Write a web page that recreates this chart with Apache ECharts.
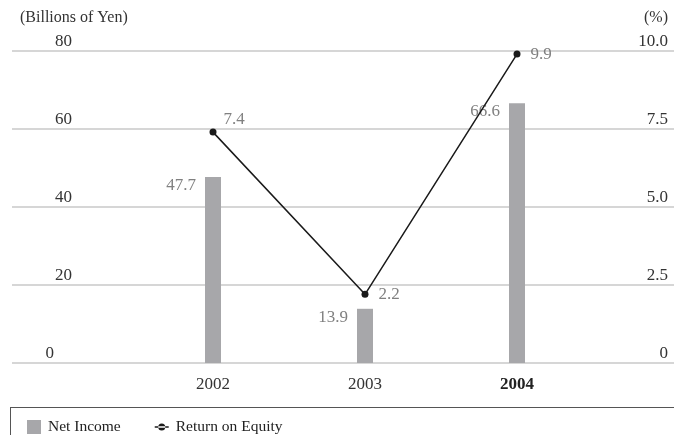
<!DOCTYPE html>
<html><head><meta charset="utf-8">
<script src="https://cdn.jsdelivr.net/npm/echarts@6/dist/echarts.min.js"></script>
<style>html,body{margin:0;padding:0;background:#fff}#c{width:674px;height:435px}</style>
</head><body><div id="c"></div>
<script>
const categories = ['2002', '2003', '2004'];
const netIncome = [47.7, 13.9, 66.6];
const roe = [7.4, 2.2, 9.9];
const leftTicks = { min: 0, max: 80, interval: 20 };
const rightTicks = { min: 0, max: 10, interval: 2.5 };

const FONT = '"Liberation Serif", "DejaVu Serif", serif';
const chart = echarts.init(document.getElementById('c'));
const gridCommon = { top: 51, bottom: 72 };
chart.setOption({
  animation: false,
  textStyle: { fontFamily: FONT },
  grid: [
    Object.assign({ left: 12, right: 0 }, gridCommon),
    Object.assign({ left: 137, right: 81 }, gridCommon)
  ],
  xAxis: [
    { gridIndex: 0, type: 'value', show: false, min: 0, max: 1 },
    { gridIndex: 1, type: 'category', data: categories,
      axisLine: { show: false }, axisTick: { show: false },
      axisLabel: { margin: 13, fontFamily: FONT, fontSize: 17, color: '#333',
        formatter: v => v === '2004' ? '{b|' + v + '}' : v,
        rich: { b: { fontWeight: 'bold', fontFamily: FONT, fontSize: 17, color: '#222' } } } }
  ],
  yAxis: [
    { gridIndex: 0, type: 'value', position: 'left', min: leftTicks.min, max: leftTicks.max, interval: leftTicks.interval,
      name: '(Billions of Yen)', nameLocation: 'end', nameGap: 25,
      nameTextStyle: { align: 'left', verticalAlign: 'bottom', fontFamily: FONT, fontSize: 16, color: '#333', padding: [0, 0, 0, 8] },
      axisLine: { show: false }, axisTick: { show: false },
      splitLine: { lineStyle: { color: '#c8c8c8', width: 1.5 } },
      axisLabel: { inside: true, margin: 60, align: 'right', verticalAlign: 'bottom', padding: [0, 0, 1, 0],
        fontFamily: FONT, fontSize: 17, color: '#333',
        formatter: v => v === 0 ? '{z|0}' : String(v),
        rich: { z: { fontFamily: FONT, fontSize: 17, color: '#333', padding: [0, 18, 0, 0] } } } },
    { gridIndex: 0, type: 'value', position: 'right', min: rightTicks.min, max: rightTicks.max, interval: rightTicks.interval,
      name: '(%)', nameLocation: 'end', nameGap: 25,
      nameTextStyle: { align: 'right', verticalAlign: 'bottom', fontFamily: FONT, fontSize: 16, color: '#333', padding: [0, 6, 0, 0] },
      axisLine: { show: false }, axisTick: { show: false }, splitLine: { show: false },
      axisLabel: { inside: true, margin: 6, align: 'right', verticalAlign: 'bottom', padding: [0, 0, 1, 0],
        fontFamily: FONT, fontSize: 17, color: '#333',
        formatter: v => v === 0 ? '0' : v.toFixed(1) } },
    { gridIndex: 1, type: 'value', show: false, min: leftTicks.min, max: leftTicks.max, interval: leftTicks.interval, splitLine: { show: false } },
    { gridIndex: 1, type: 'value', show: false, min: rightTicks.min, max: rightTicks.max, interval: rightTicks.interval, splitLine: { show: false } }
  ],
  legend: {
    left: 27, top: 419, padding: 0, itemWidth: 14, itemHeight: 14, itemGap: 34,
    textStyle: { fontFamily: FONT, fontSize: 15.5, color: '#222', padding: [2, 0, 0, 2] },
    data: [
      { name: 'Net Income', icon: 'rect' },
      { name: 'Return on Equity', icon: 'path://M0,0M16,14M0,6.1h16v1.8H0z M4,7a4,4 0 1,0 8,0a4,4 0 1,0 -8,0z' }
    ]
  },
  graphic: [
    { type: 'line', shape: { x1: 10, y1: 407.5, x2: 674, y2: 407.5 }, style: { stroke: '#555', lineWidth: 1 } },
    { type: 'line', shape: { x1: 10.5, y1: 407, x2: 10.5, y2: 435 }, style: { stroke: '#555', lineWidth: 1 } }
  ],
  series: [
    { name: 'Net Income', type: 'bar', xAxisIndex: 1, yAxisIndex: 2, data: netIncome, barWidth: 16,
      itemStyle: { color: '#a7a7aa' },
      label: { show: true, position: [-9, 0], align: 'right', verticalAlign: 'top',
        fontFamily: FONT, fontSize: 17, color: '#808080', formatter: p => p.value.toFixed(1) } },
    { name: 'Return on Equity', type: 'line', xAxisIndex: 1, yAxisIndex: 3,
      data: roe.map((v, i) => i === 0
        ? { value: v, label: { position: [14, -18], align: 'left', verticalAlign: 'top' } }
        : { value: v }),
      symbol: 'circle', symbolSize: 7, lineStyle: { color: '#1a1a1a', width: 1.5 },
      itemStyle: { color: '#1a1a1a' },
      label: { show: true, position: 'right', distance: 10,
        fontFamily: FONT, fontSize: 17, color: '#808080', formatter: p => p.value.toFixed(1) } }
  ]
});
</script></body></html>
